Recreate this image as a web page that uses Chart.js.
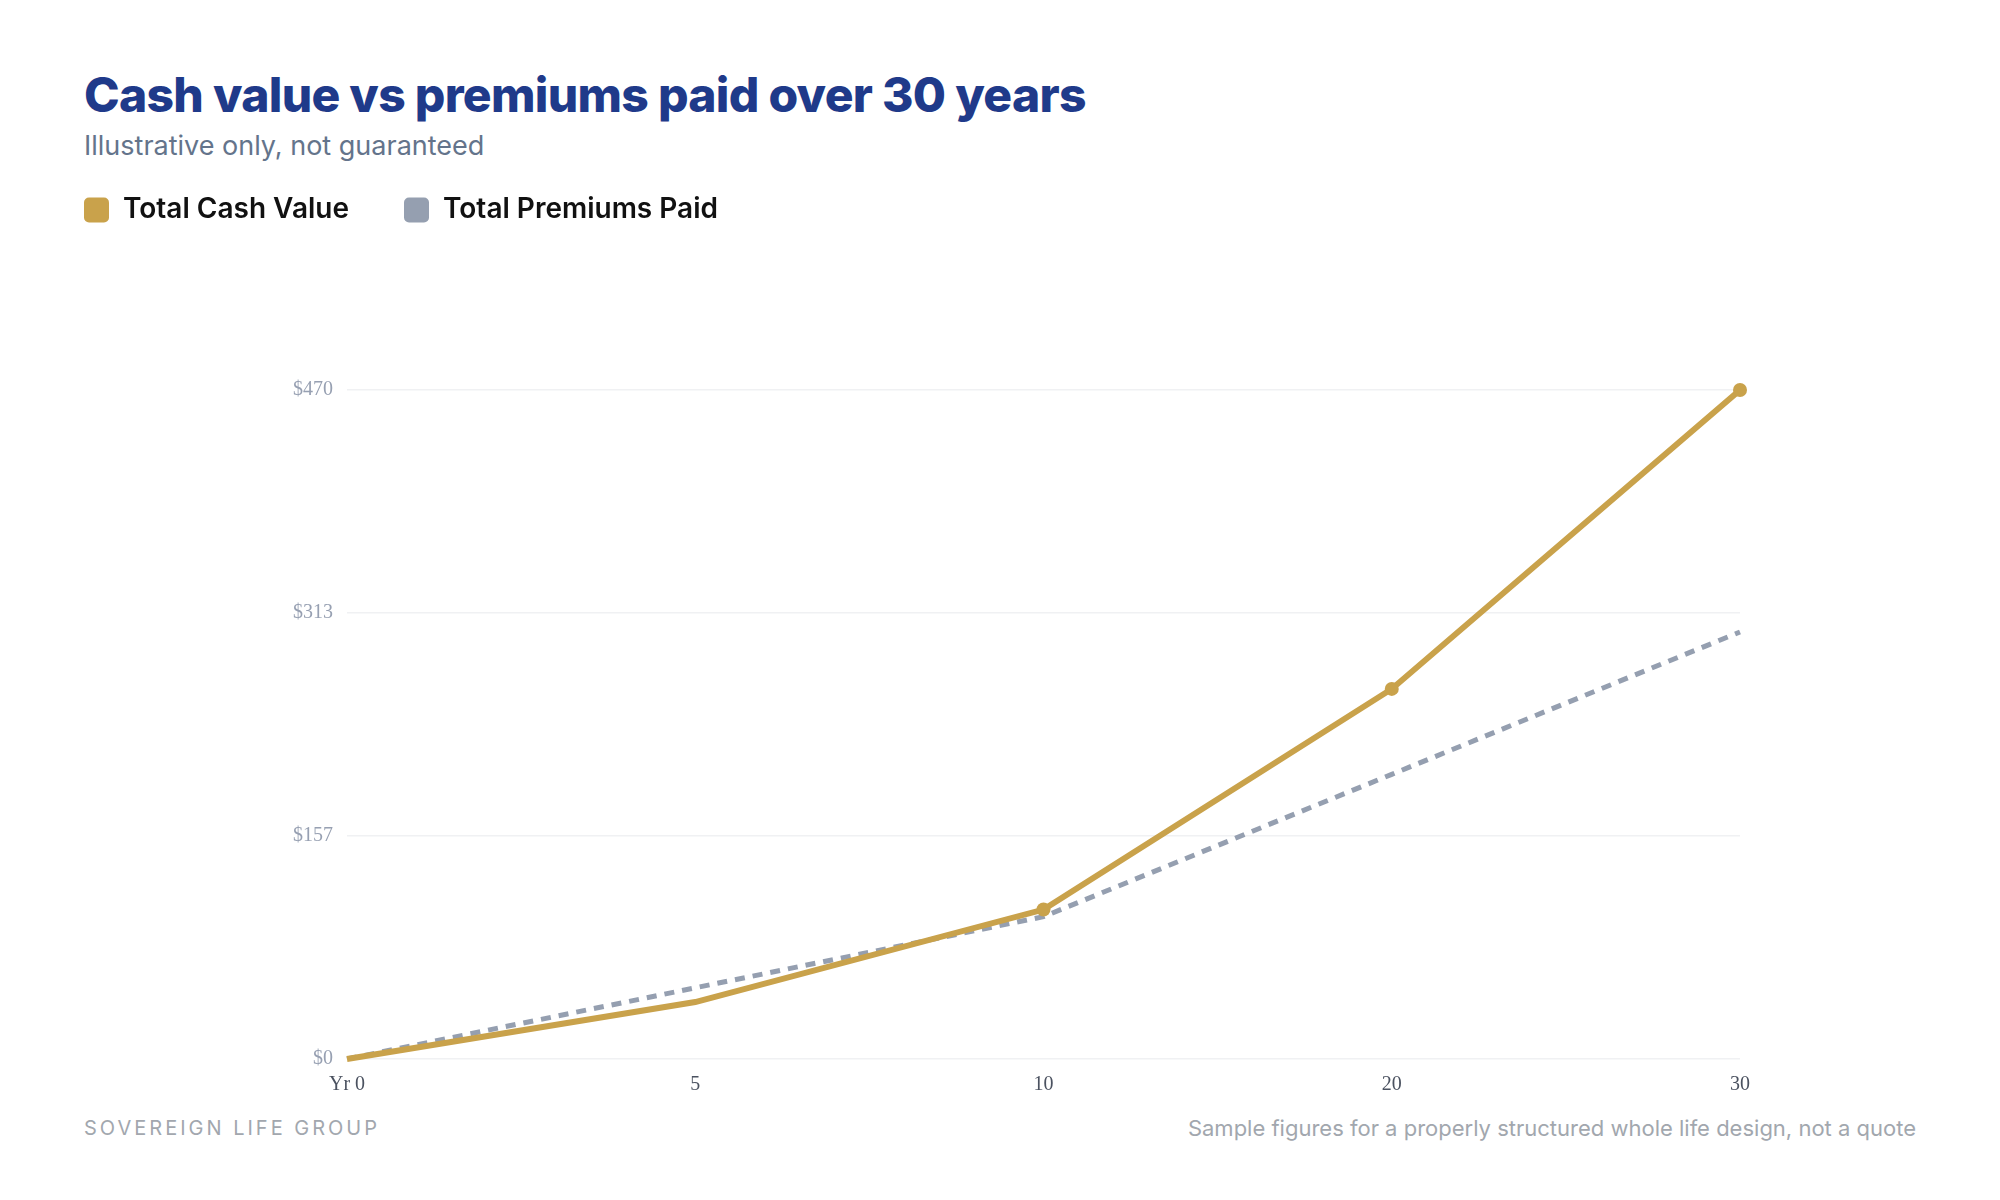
<!DOCTYPE html>
<html>
<head>
<meta charset="utf-8">
<script src="https://cdn.jsdelivr.net/npm/chart.js@4.4.1/dist/chart.umd.min.js"></script>
<style>
  html, body { margin: 0; padding: 0; background: #fff; }
  body { width: 2000px; height: 1200px; position: relative; overflow: hidden; font-family: Inter, "Noto Sans", sans-serif; }
  .title { position: absolute; left: 84px; top: 66px; font-size: 48px; font-weight: 800; color: #1f3a8a; letter-spacing: -0.7px; line-height: 1.2; }
  .subtitle { position: absolute; left: 84px; top: 130px; font-size: 27px; color: #64748b; line-height: 1.2; }
  .chart-wrap { position: absolute; left: 0; top: 141px; width: 2000px; height: 974px; }
  .foot-left { position: absolute; left: 84px; top: 1116px; font-size: 20px; color: #a2a7ae; letter-spacing: 3px; }
  .foot-right { position: absolute; right: 84px; top: 1115px; font-size: 22px; color: #a2a7ae; }
</style>
</head>
<body>
<div class="title">Cash value vs premiums paid over 30 years</div>
<div class="subtitle">Illustrative only, not guaranteed</div>
<div class="chart-wrap"><canvas id="cashChart"></canvas></div>
<div class="foot-left">SOVEREIGN LIFE GROUP</div>
<div class="foot-right">Sample figures for a properly structured whole life design, not a quote</div>

<script>
var yearLabels = ["Yr 0", "5", "10", "20", "30"];
var cashValue = [0, 40, 105, 260, 470];      // total cash value
var premiumsPaid = [0, 50, 100, 200, 300];   // total premiums paid
var cashPointRadius = [0, 0, 7, 7, 7];

var gold = '#c9a24b';
var slate = '#959fb0';

// push the plot down below the legend
var legendGap = {
    id: 'legendGap',
    beforeInit: function(chart) {
        var origFit = chart.legend.fit;
        chart.legend.fit = function() {
            origFit.bind(chart.legend)();
            this.height += 156;
        };
    }
};

var ctx = document.getElementById('cashChart').getContext('2d');
var cashChart = new Chart(ctx, {
    type: 'line',
    data: {
        labels: yearLabels,
        datasets: [{
            label: 'Total Cash Value',
            data: cashValue,
            borderColor: gold,
            backgroundColor: gold,
            borderWidth: 6,
            pointRadius: cashPointRadius,
            pointBackgroundColor: gold,
            pointBorderWidth: 0,
            tension: 0,
            clip: false
        }, {
            label: 'Total Premiums Paid',
            data: premiumsPaid,
            borderColor: slate,
            backgroundColor: slate,
            borderWidth: 5,
            borderDash: [10, 8],
            pointRadius: 0,
            tension: 0
        }]
    },
    options: {
        responsive: true,
        maintainAspectRatio: false,
        animation: false,
        layout: { padding: { left: 29, right: 260, top: 0, bottom: 12 } },
        plugins: {
            tooltip: { enabled: false },
            legend: {
                position: 'top',
                align: 'start',
                labels: {
                    boxWidth: 25,
                    boxHeight: 25,
                    useBorderRadius: true,
                    borderRadius: 5,
                    padding: 55,
                    color: '#111111',
                    font: { family: 'Inter', size: 28, weight: '600' },
                    generateLabels: function(chart) {
                        return chart.data.datasets.map(function(ds, i) {
                            return {
                                text: ds.label,
                                fillStyle: ds.borderColor,
                                strokeStyle: ds.borderColor,
                                lineWidth: 0,
                                lineDash: [],
                                borderRadius: 5,
                                fontColor: '#111111',
                                datasetIndex: i
                            };
                        });
                    }
                }
            }
        },
        scales: {
            x: {
                grid: { display: false },
                border: { display: false },
                ticks: {
                    color: '#4b5260',
                    padding: 6,
                    maxRotation: 0,
                    font: { family: '"Liberation Serif", "Times New Roman", serif', size: 20 }
                }
            },
            y: {
                min: 0,
                max: 470,
                afterFit: function(scale) { scale.width = 318; },
                grid: { color: '#f0f1f3', lineWidth: 1.5, drawTicks: false },
                border: { display: false },
                ticks: {
                    count: 4,
                    color: '#97a0b2',
                    padding: 14,
                    font: { family: '"Liberation Serif", "Times New Roman", serif', size: 20 },
                    callback: function(v) { return '$' + Math.round(v); }
                }
            }
        }
    },
    plugins: [legendGap]
});
</script>
</body>
</html>
